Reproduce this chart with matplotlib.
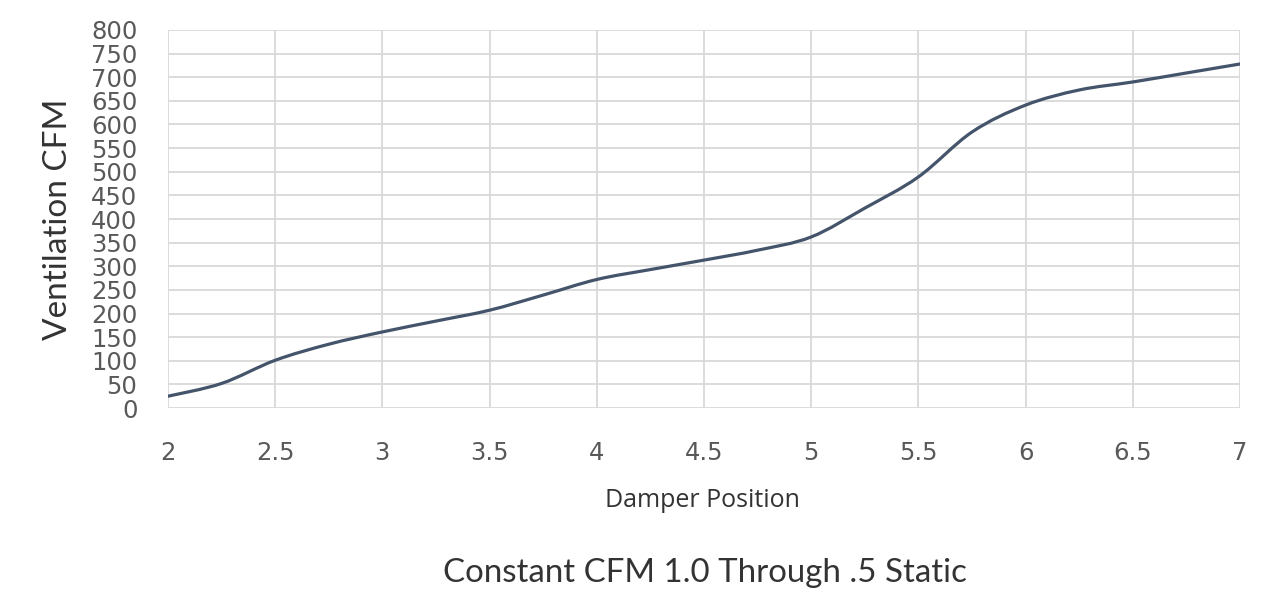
import matplotlib
matplotlib.use("Agg")
import matplotlib.pyplot as plt
from matplotlib.path import Path
from matplotlib.patches import PathPatch

damper = [2, 2.25, 2.5, 2.75, 3, 3.25, 3.5, 3.75, 4, 4.25, 4.5,
          4.75, 5, 5.25, 5.5, 5.75, 6, 6.25, 6.5, 6.75, 7]
cfm = [25, 52, 101, 135, 161, 184, 207, 239, 272, 293, 313,
       334, 362, 423, 489, 584, 641, 673, 690, 709, 728]

x_ticks = [2, 2.5, 3, 3.5, 4, 4.5, 5, 5.5, 6, 6.5, 7]
y_ticks = list(range(0, 801, 50))

LINE = "#44546a"
GRID = "#d9d9d9"
TXT = "#595959"


def smooth_path(xs, ys):
    # excel style smoothed line: cubic bezier segments, catmull-rom tangents
    verts = [(xs[0], ys[0])]
    codes = [Path.MOVETO]
    n = len(xs)
    for i in range(n - 1):
        x0, y0 = (xs[i - 1], ys[i - 1]) if i > 0 else (xs[i], ys[i])
        x1, y1 = xs[i], ys[i]
        x2, y2 = xs[i + 1], ys[i + 1]
        x3, y3 = (xs[i + 2], ys[i + 2]) if i + 2 < n else (x2, y2)
        c1 = (x1 + (x2 - x0) / 6, y1 + (y2 - y0) / 6)
        c2 = (x2 - (x3 - x1) / 6, y2 - (y3 - y1) / 6)
        verts += [c1, c2, (x2, y2)]
        codes += [Path.CURVE4] * 3
    return Path(verts, codes)


fig = plt.figure(figsize=(12.88, 6.07), dpi=100)
ax = fig.add_axes([0.1304, 0.3278, 0.8323, 0.6228])

patch = PathPatch(smooth_path(damper, cfm), facecolor="none",
                  edgecolor=LINE, lw=2.3, capstyle="round", zorder=3)
ax.add_patch(patch)

ax.set_xlim(2, 7)
ax.set_ylim(0, 800)
ax.set_xticks(x_ticks)
ax.set_xticklabels([f"{v:g}" for v in x_ticks])
ax.set_yticks(y_ticks)
ax.grid(True, color=GRID, lw=1.3)
ax.set_axisbelow(True)
for s in ax.spines.values():
    s.set_visible(False)
ax.tick_params(length=0, labelsize=17.5, labelcolor=TXT)
ax.tick_params(axis="y", pad=22)
ax.tick_params(axis="x", pad=24)

ax.set_ylabel("Ventilation CFM", fontsize=24, color="#333333",
              family="Lato", va="center")
ax.yaxis.set_label_coords(-0.1026, 0.5)
ax.set_xlabel("Damper Position", fontsize=18, color="#333333",
              family="Open Sans", va="center")
ax.xaxis.set_label_coords(0.4986, -0.2434)

fig.text(0.547, 0.056, "Constant CFM 1.0 Through .5 Static", ha="center",
         va="center", fontsize=23.8, color="#333333", family="Lato")

fig.savefig("out.png", dpi=100)
